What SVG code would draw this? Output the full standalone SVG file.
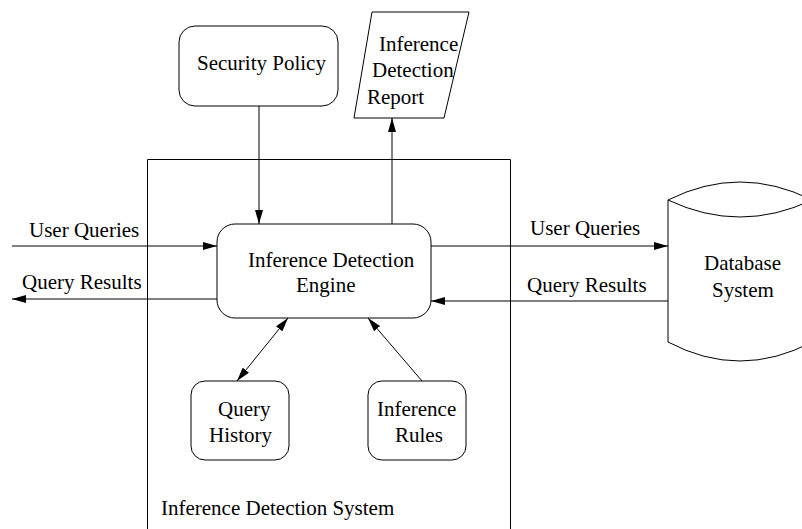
<svg xmlns="http://www.w3.org/2000/svg" width="802" height="529" viewBox="0 0 802 529">
<defs>
<marker id="ah" viewBox="0 0 14 8" refX="14" refY="4" markerWidth="14" markerHeight="8" markerUnits="userSpaceOnUse" orient="auto-start-reverse">
<path d="M0,0 L14,4 L0,8 Z" fill="#000"/>
</marker>
</defs>
<style>
.t{font-family:"Liberation Serif","Times New Roman",serif;font-size:21px;fill:#000}
.b{fill:#fff;stroke:#000;stroke-width:1}
.c{fill:none;stroke:#000;stroke-width:1}
</style>
<rect width="802" height="529" fill="#fff"/>
<g id="system">
<path class="c" d="M147.5,529 V159.5 H510.5 V529" stroke="#333"/>
<text class="t" x="161" y="515">Inference Detection System</text>
</g>
<g id="connectors">
<line class="c" x1="259" y1="106" x2="259" y2="224" marker-end="url(#ah)"/>
<line class="c" x1="392" y1="224" x2="392" y2="118" marker-end="url(#ah)"/>
<line class="c" x1="12" y1="246" x2="217" y2="246" marker-end="url(#ah)"/>
<line class="c" x1="217" y1="299" x2="12" y2="299" marker-end="url(#ah)"/>
<line class="c" x1="431" y1="246" x2="668" y2="246" marker-end="url(#ah)"/>
<line class="c" x1="668" y1="301" x2="431" y2="301" marker-end="url(#ah)"/>
<line class="c" x1="288" y1="318" x2="237" y2="381" marker-start="url(#ah)" marker-end="url(#ah)"/>
<line class="c" x1="422" y1="381" x2="368" y2="318" marker-end="url(#ah)"/>
<text class="t" x="29" y="237">User Queries</text>
<text class="t" x="22" y="289">Query Results</text>
<text class="t" x="530" y="235">User Queries</text>
<text class="t" x="527" y="292">Query Results</text>
</g>
<g id="security-policy">
<rect class="b" x="179" y="26" width="159" height="80" rx="16"/>
<text class="t" x="197" y="70">Security Policy</text>
</g>
<g id="report">
<polygon class="b" points="372,12 469,12 444,118 354,118"/>
<text class="t" x="379" y="51">Inference</text>
<text class="t" x="372" y="77">Detection</text>
<text class="t" x="367" y="104">Report</text>
</g>
<g id="engine">
<rect class="b" x="217" y="224" width="214" height="94" rx="18"/>
<text class="t" x="248" y="267">Inference Detection</text>
<text class="t" x="296" y="292">Engine</text>
</g>
<g id="query-history">
<rect class="b" x="191" y="381" width="98" height="79" rx="14"/>
<text class="t" x="218" y="416">Query</text>
<text class="t" x="209" y="442">History</text>
</g>
<g id="inference-rules">
<rect class="b" x="368" y="381" width="98" height="79" rx="14"/>
<text class="t" x="377" y="416">Inference</text>
<text class="t" x="395" y="442">Rules</text>
</g>
<g id="database">
<path class="b" d="M668,200 Q740,164 812,200 V342 Q740,380 668,342 Z"/>
<path class="c" d="M668,200 Q740,234 812,200"/>
<text class="t" x="704" y="270">Database</text>
<text class="t" x="712" y="297">System</text>
</g>
</svg>
